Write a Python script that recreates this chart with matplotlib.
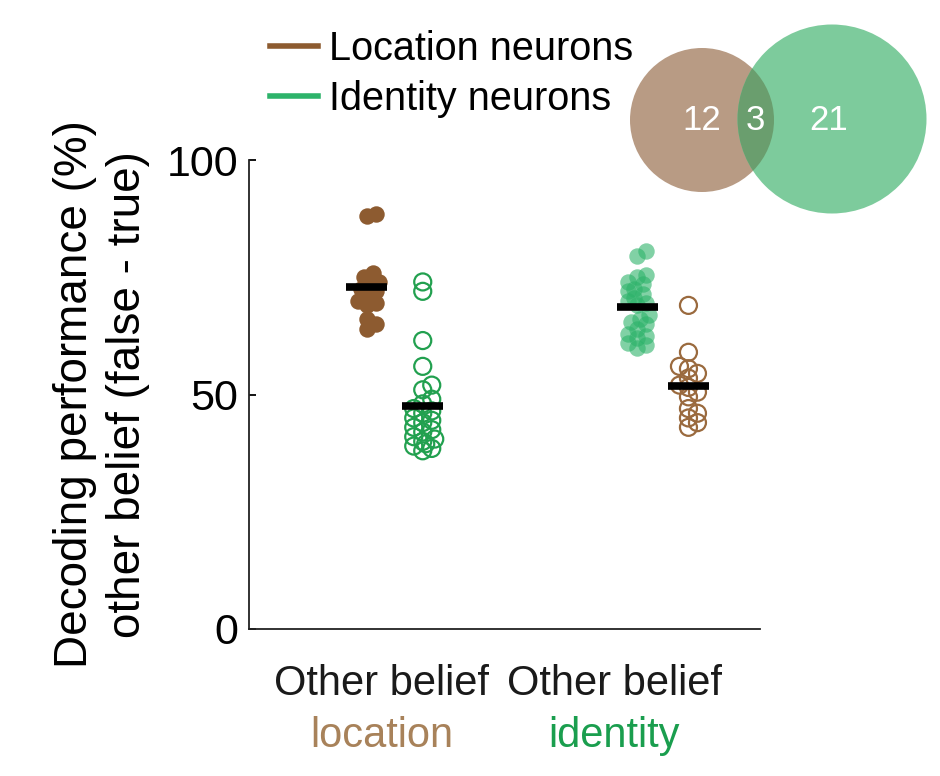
import numpy as np
import matplotlib
matplotlib.use('Agg')
import matplotlib.pyplot as plt
from matplotlib.lines import Line2D
from matplotlib.patches import Circle

plt.rcParams['font.family'] = ['Liberation Sans', 'DejaVu Sans']

# decoding performance (%) per neuron
loc_loc = [88.0, 88.5, 76.0, 75.0, 74.0, 73.5, 72.5, 72.0, 71.0, 70.0, 69.5, 69.0, 66.0, 65.0, 64.0]
loc_id = [74.0, 72.0, 61.5, 56.0, 52.0, 51.0, 49.0, 48.0, 47.0, 46.5, 46.0, 45.0,
          44.5, 44.0, 43.0, 42.5, 42.0, 41.0, 40.5, 40.0, 39.5, 39.0, 38.5, 38.0]
id_id = [80.5, 79.5, 75.5, 75.0, 74.0, 73.5, 72.5, 72.0, 71.5, 70.5, 70.0, 69.5,
         69.0, 67.0, 66.0, 65.5, 65.0, 64.0, 63.0, 62.5, 62.0, 61.0, 60.5, 60.0]
id_loc = [69.0, 59.0, 56.0, 55.5, 54.5, 53.5, 52.0, 51.5, 50.5, 49.5, 47.0, 46.0, 45.0, 44.0, 43.0]

groups = ['Other belief', 'Other belief']
group_sub = ['location', 'identity']
legend_names = ['Location neurons', 'Identity neurons']
venn_counts = [12, 3, 21]

brown = '#8d5b30'
green = '#2db36a'
green_edge = '#22a04f'
brown_edge = '#9a6a3e'

W, H = 940, 776
fig = plt.figure(figsize=(W / 100, H / 100), dpi=100)
ax = fig.add_axes([249 / W, 1 - 629 / H, (760 - 249) / W, (629 - 160) / H])
ax.set_xlim(0, 10)
ax.set_ylim(0, 100)

px_x = (760 - 249) / 10.0
px_y = (629 - 160) / 100.0


def swarm(vals, dmin=8.0, step=3.0, maxoff=14.0):
    # simple beeswarm offsets (data units)
    ys = np.array(vals) * px_y
    placed = []
    offs = np.zeros(len(vals))
    for i in np.argsort(ys):
        best = 0.0
        for k in range(0, 20):
            for s in ([0.0] if k == 0 else [k * step, -k * step]):
                if abs(s) > maxoff:
                    continue
                ok = all((s - px) ** 2 + (ys[i] - py) ** 2 >= dmin ** 2 for px, py in placed)
                if ok:
                    best = s
                    break
            else:
                continue
            break
        else:
            best = ((i % 3) - 1) * step
        placed.append((best, ys[i]))
        offs[i] = best
    return offs / px_x


def draw(xc, vals, filled, col, alpha=1.0):
    xs = xc + swarm(vals)
    if filled:
        ax.scatter(xs, vals, s=140, color=col, alpha=alpha, linewidths=0, zorder=2)
    else:
        ax.scatter(xs, vals, s=150, facecolors='none', edgecolors=col, linewidths=1.6, zorder=2)
    m = np.mean(vals)
    ax.plot([xc - 0.4, xc + 0.4], [m, m], color='black', lw=5.5, solid_capstyle='butt', zorder=3)


draw(2.3, loc_loc, True, brown)
draw(3.4, loc_id, False, green_edge)
draw(7.6, id_id, True, green, alpha=0.6)
draw(8.6, id_loc, False, brown_edge)

for s in ['top', 'right']:
    ax.spines[s].set_visible(False)
for s in ['left', 'bottom']:
    ax.spines[s].set_linewidth(1.3)
    ax.spines[s].set_color('#222222')
ax.set_xticks([])
ax.set_yticks([0, 50, 100])
ax.tick_params(axis='y', direction='in', length=5, width=1.3, labelsize=31, pad=8)
ax.set_ylabel('Decoding performance (%)\nother belief (false - true)', fontsize=33,
              labelpad=12, linespacing=1.25)

for xc, g, sub, c in zip([2.6, 7.15], groups, group_sub, ['#a8825a', '#1a9e4e']):
    ax.text(xc, -0.075, g, transform=ax.get_xaxis_transform(), ha='center', va='top',
            fontsize=30, color='#1a1a1a')
    ax.text(xc, -0.185, sub, transform=ax.get_xaxis_transform(), ha='center', va='top',
            fontsize=30, color=c)

# legend
handles = [Line2D([], [], color=brown, lw=4), Line2D([], [], color=green, lw=4)]
fig.legend(handles, legend_names, loc='upper left', bbox_to_anchor=(270 / W, 1 - 30 / H),
           frameon=False, fontsize=28.5, handlelength=1.2, handletextpad=0.3,
           labelspacing=0.3, borderaxespad=0, borderpad=0)

# venn diagram (pixel coordinates)
vx = fig.add_axes([0, 0, 1, 1], zorder=5)
vx.set_xlim(0, W)
vx.set_ylim(H, 0)
vx.set_aspect('equal')
vx.axis('off')
vx.patch.set_alpha(0)
c_loc = Circle((702, 120), 72, color='#b89b84', lw=0)
c_id = Circle((832, 119), 94.5, color='#7dcb9c', lw=0)
vx.add_patch(c_loc)
vx.add_patch(c_id)
both = Circle((702, 120), 72, color='#6a9e6e', lw=0)
vx.add_patch(both)
both.set_clip_path(c_id)
for x, n in zip([702, 755, 829], venn_counts):
    vx.text(x, 120, str(n), color='white', fontsize=25, ha='center', va='center')

fig.savefig('out.png', dpi=100)
